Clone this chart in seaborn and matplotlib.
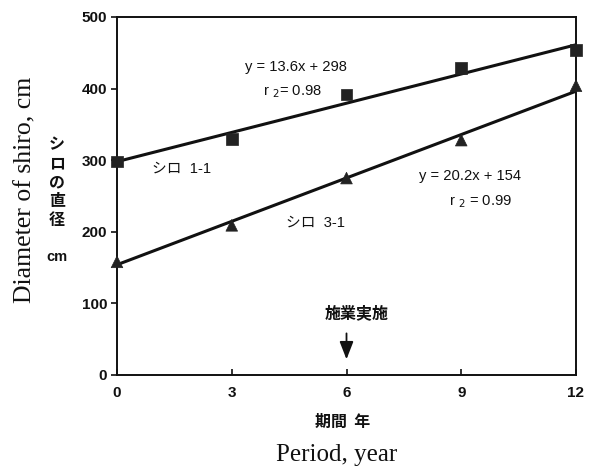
import numpy as np
import pandas as pd
import matplotlib
matplotlib.use("Agg")
import matplotlib.pyplot as plt
import seaborn as sns

# Measured shiro diameters (cm) over the observation period (years)
period = [0, 3, 6, 9, 12]
shiro_1_1 = [298, 330, 392, 429, 454]
shiro_3_1 = [158, 209, 275, 328, 404]

# Linear fits reported for each shiro
fit_slope = [13.6, 20.2]
fit_intercept = [298, 154]
fit_r2 = [0.98, 0.99]
series_names = ["シロ  1-1", "シロ  3-1"]
x_ticks = [0, 3, 6, 9, 12]
y_ticks = [0, 100, 200, 300, 400, 500]

sns.set_theme(style="ticks")
plt.rcParams["font.family"] = ["Liberation Sans", "Noto Sans CJK JP", "DejaVu Sans"]

df = pd.DataFrame({
    "period": period * 2,
    "diameter": shiro_1_1 + shiro_3_1,
    "shiro": [series_names[0]] * 5 + [series_names[1]] * 5,
})

fit_x = np.array([period[0], period[-1]])
fit_df = pd.DataFrame({
    "period": np.concatenate([fit_x, fit_x]),
    "diameter": np.concatenate([fit_slope[0] * fit_x + fit_intercept[0],
                                fit_slope[1] * fit_x + fit_intercept[1]]),
    "shiro": [series_names[0]] * 2 + [series_names[1]] * 2,
})

W, H = 592, 469
fig = plt.figure(figsize=(W / 100, H / 100), dpi=100)
L, R, T, B = 117, 576, 17, 375
ax = fig.add_axes([L / W, 1 - B / H, (R - L) / W, (B - T) / H])

ink = "#111111"
sns.lineplot(data=fit_df, x="period", y="diameter", units="shiro", estimator=None,
             color=ink, lw=2.2, ax=ax, legend=False)
sns.scatterplot(data=df, x="period", y="diameter", style="shiro",
                markers={series_names[0]: "s", series_names[1]: "^"},
                color="#222222", s=70, edgecolor="#222222", linewidth=0.5,
                ax=ax, legend=False, clip_on=False, zorder=5)

ax.set_xlim(0, 12)
ax.set_ylim(0, 500)
ax.set_xticks(x_ticks)
ax.set_yticks(y_ticks)
ax.set_xlabel("")
ax.set_ylabel("")
for s in ax.spines.values():
    s.set_linewidth(1.4)
    s.set_color(ink)
ax.tick_params(axis="x", direction="in", length=4, width=1.2, pad=8,
               labelsize=11, colors=ink)
ax.tick_params(axis="y", direction="out", length=4, width=1.2, pad=3,
               labelsize=11, colors=ink)
for lab in ax.get_xticklabels() + ax.get_yticklabels():
    lab.set_fontweight("bold")

def px(x, y):
    return x / W, 1 - y / H

cjk = ["Noto Sans CJK JP", "DejaVu Sans"]
txt_kw = dict(fontsize=10.6, color=ink, ha="center", va="center")
fig.text(*px(296, 67), f"y = {fit_slope[0]}x + {fit_intercept[0]}", **txt_kw)
fig.text(*px(292, 92), f"r $_2$= {fit_r2[0]:.2f}", **txt_kw)
fig.text(*px(182, 169), series_names[0], **txt_kw)
fig.text(*px(470, 176), f"y = {fit_slope[1]}x + {fit_intercept[1]}", **txt_kw)
fig.text(*px(481, 202), f"r $_2$ = {fit_r2[1]:.2f}", **txt_kw)
fig.text(*px(315, 223), series_names[1], **txt_kw)
fig.text(*px(357, 313), "施業実施", fontsize=11.5, color=ink, ha="center",
         va="center", family=cjk, fontweight="bold")

# Arrow marking the start of the treatment
ax.annotate("", xy=(6, 18), xytext=(6, 62),
            arrowprops=dict(arrowstyle="-|>,head_length=0.9,head_width=0.35",
                            color=ink, lw=1.3))

# Axis titles
fig.text(*px(25, 190), "Diameter of shiro, cm", rotation=90, fontsize=18.5,
         family="Liberation Serif", color=ink, ha="center", va="center")
fig.text(*px(57, 182), "シ\nロ\nの\n直\n径", fontsize=11.5, color=ink,
         ha="center", va="center", linespacing=1.22, family=cjk,
         fontweight="bold")
fig.text(*px(57, 257), "cm", fontsize=10.5, color=ink, ha="center", va="center",
         fontweight="bold")
fig.text(*px(343, 422), "期間  年", fontsize=11.5, color=ink, ha="center",
         va="center", family=cjk, fontweight="bold")
fig.text(*px(337, 455), "Period, year", fontsize=18, family="Liberation Serif",
         color=ink, ha="center", va="center")

fig.savefig("out.png", dpi=100, facecolor="white")
